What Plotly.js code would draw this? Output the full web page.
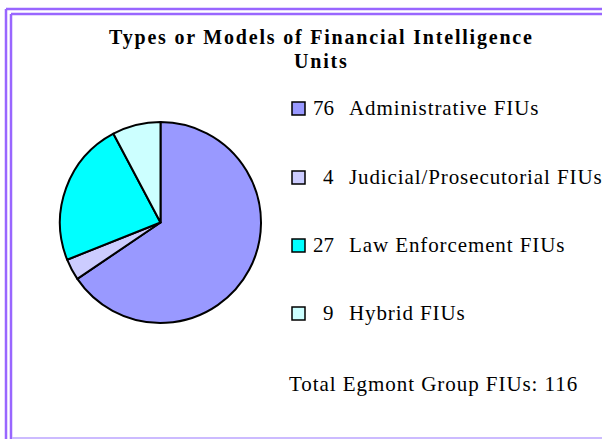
<!DOCTYPE html>
<html>
<head>
<meta charset="utf-8">
<script src="https://cdn.plot.ly/plotly-3.0.1.min.js"></script>
<style>html,body{margin:0;padding:0;background:#fff;}#chart{width:602px;height:439px;}</style>
</head>
<body>
<div id="chart"></div>
<script>
const categories = ["Administrative FIUs", "Judicial/Prosecutorial FIUs", "Law Enforcement FIUs", "Hybrid FIUs"];
const counts = [76, 4, 27, 9];
const colors = ["#9999ff", "#ccccff", "#00ffff", "#ccffff"];
const titleLines = ["Types or Models of Financial Intelligence", "Units"];
const totalLabel = "Total Egmont Group FIUs: ";
const total = counts.reduce((a, b) => a + b, 0);

const W = 602, H = 439;
const px = x => x / W;
const py = y => 1 - y / H;

const serif = "Liberation Serif, Times New Roman, serif";
const sp = (t, ls) => '<span style="letter-spacing:' + ls + 'px">' + t + '</span>';

const trace = {
  type: "pie",
  values: counts,
  labels: categories,
  sort: false,
  direction: "clockwise",
  rotation: 0,
  textinfo: "none",
  hoverinfo: "label+value",
  marker: {colors: colors, line: {color: "#000", width: 2}},
  domain: {x: [px(60), px(261)], y: [py(323), py(122)]},
  showlegend: false
};

const shapes = [
  {type: "line", xref: "paper", yref: "paper", x0: px(6), x1: px(6), y0: py(9), y1: py(439), line: {color: "#9966ff", width: 2.5}},
  {type: "line", xref: "paper", yref: "paper", x0: px(6), x1: px(602), y0: py(9), y1: py(9), line: {color: "#9966ff", width: 2.5}},
  {type: "line", xref: "paper", yref: "paper", x0: px(11), x1: px(11), y0: py(14), y1: py(439), line: {color: "#9966ff", width: 2.5}},
  {type: "line", xref: "paper", yref: "paper", x0: px(11), x1: px(602), y0: py(14), y1: py(14), line: {color: "#9966ff", width: 2.5}},
  {type: "line", xref: "paper", yref: "paper", x0: px(12), x1: px(602), y0: py(438), y1: py(438), line: {color: "#ccbbff", width: 2}}
];
const annotations = [
  {xref: "paper", yref: "paper", x: px(321), y: py(37), xanchor: "center", yanchor: "middle", showarrow: false,
   text: "<b>" + sp(titleLines[0], 1.8) + "</b>", font: {family: serif, size: 20, color: "#000"}},
  {xref: "paper", yref: "paper", x: px(321), y: py(61), xanchor: "center", yanchor: "middle", showarrow: false,
   text: "<b>" + sp(titleLines[1], 1.8) + "</b>", font: {family: serif, size: 20, color: "#000"}},
  {xref: "paper", yref: "paper", x: px(433), y: py(384), xanchor: "center", yanchor: "middle", showarrow: false,
   text: sp(totalLabel + total, 0.95), font: {family: serif, size: 21, color: "#000"}}
];
const rowY = [108, 177, 245, 313];
categories.forEach((c, i) => {
  const y = rowY[i];
  shapes.push({type: "rect", xref: "paper", yref: "paper", x0: px(292), x1: px(305), y0: py(y + 7), y1: py(y - 6),
    fillcolor: colors[i], line: {color: "#000", width: 1.5}});
  annotations.push({xref: "paper", yref: "paper", x: px(336), y: py(y), xanchor: "right", yanchor: "middle", showarrow: false,
    text: String(counts[i]), font: {family: serif, size: 21, color: "#000"}});
  annotations.push({xref: "paper", yref: "paper", x: px(347), y: py(y), xanchor: "left", yanchor: "middle", showarrow: false,
    text: sp(c, 0.9), font: {family: serif, size: 21, color: "#000"}});
});

const layout = {
  width: W, height: H,
  margin: {l: 0, r: 0, t: 0, b: 0},
  paper_bgcolor: "#fff",
  plot_bgcolor: "#fff",
  showlegend: false,
  shapes: shapes,
  annotations: annotations
};
Plotly.newPlot("chart", [trace], layout, {displayModeBar: false, staticPlot: true});
</script>
</body>
</html>
